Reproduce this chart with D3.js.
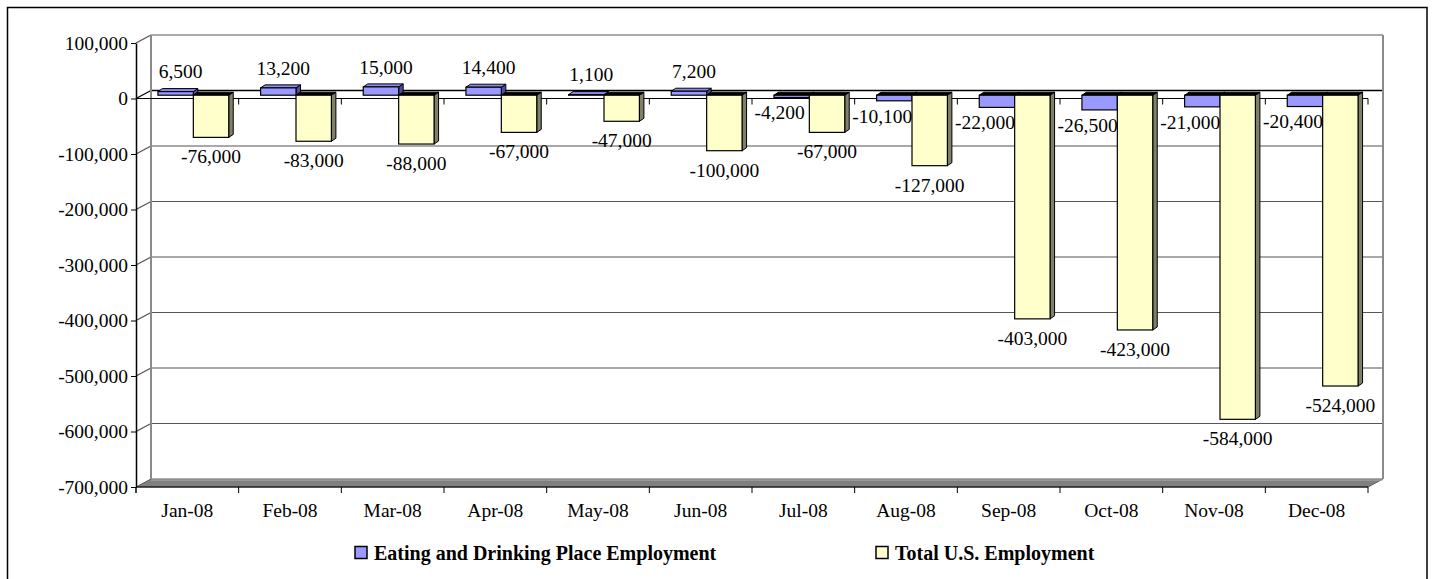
<!DOCTYPE html>
<html>
<head>
<meta charset="utf-8">
<script src="https://cdn.jsdelivr.net/npm/d3@7"></script>
<style>
  body { margin: 0; background: #fff; }
  svg text { font-family: "Liberation Serif", "Times New Roman", serif; }
</style>
</head>
<body>
<script>
const categories = ["Jan-08", "Feb-08", "Mar-08", "Apr-08", "May-08", "Jun-08",
                    "Jul-08", "Aug-08", "Sep-08", "Oct-08", "Nov-08", "Dec-08"];
const eatingDrinking = [6500, 13200, 15000, 14400, 1100, 7200, -4200, -10100, -22000, -26500, -21000, -20400];
const totalUS = [-76000, -83000, -88000, -67000, -47000, -100000, -67000, -127000, -403000, -423000, -584000, -524000];
const seriesNames = ["Eating and Drinking Place Employment", "Total U.S. Employment"];
const yTickValues = [100000, 0, -100000, -200000, -300000, -400000, -500000, -600000, -700000];

const w = 1432;
const h = 579;
const serif = '"Liberation Serif", "Times New Roman", serif';

// depth of the walls, bar front offset and bar depth (fake 3d)
const DX = 15, DY = -8;
const FX = 6, FY = -3.3;
const BX = 4.5, BY = -3;

const fmt = d3.formatLocale({decimal: ".", thousands: ",", grouping: [3], currency: ["$", ""], minus: "-"}).format(",");

const colors = {
    front: ["#9999ff", "#ffffcc"],
    side: ["#4d4d99", "#80806a"],
    top: ["#8c8cf0", "#e6e6b8"]
};

const x0 = d3.scaleBand().domain(categories).range([136, 1368]);
const x1 = d3.scaleBand().domain(seriesNames).range([0, x0.bandwidth()]).paddingOuter(0.45);
const y = d3.scaleLinear().domain([-700000, 100000]).range([487, 43]);

const svg = d3.select("body").append("svg")
    .attr("width", w)
    .attr("height", h);

// outer frame
svg.append("rect")
    .attr("x", 7.5).attr("y", 7.5)
    .attr("width", 1419.5).attr("height", 600)
    .attr("fill", "none")
    .attr("stroke", "#000")
    .attr("stroke-width", 1.5);

const xLeft = x0.range()[0], xRight = x0.range()[1];

// floor slab
const yFloor = y(-700000);
svg.append("polygon")
    .attr("points", [[xLeft, yFloor], [xLeft + DX, yFloor + DY], [xRight + DX, yFloor + DY], [xRight, yFloor]].join(" "))
    .attr("fill", "#808080")
    .attr("stroke", "#5a5a5a")
    .attr("stroke-width", 1);
svg.append("line")
    .attr("x1", xLeft + DX).attr("x2", xRight + DX)
    .attr("y1", yFloor + DY + 1).attr("y2", yFloor + DY + 1)
    .attr("stroke", "#b0b0b0");

// gridlines on back and side wall
const grid = svg.append("g");
yTickValues.filter(v => v > -700000).forEach(v => {
    const col = v === 0 ? "#000" : "#555";
    grid.append("line")
        .attr("x1", xLeft + DX).attr("x2", xRight + DX)
        .attr("y1", y(v) + DY).attr("y2", y(v) + DY)
        .attr("stroke", col).attr("stroke-width", v === 0 ? 1.5 : 1.2);
    grid.append("line")
        .attr("x1", xLeft).attr("x2", xLeft + DX)
        .attr("y1", y(v)).attr("y2", y(v) + DY)
        .attr("stroke", col).attr("stroke-width", 1.2);
});

// wall edges
[xLeft + DX, xRight + DX].forEach(xx => {
    svg.append("line")
        .attr("x1", xx).attr("x2", xx)
        .attr("y1", y(100000) + DY).attr("y2", yFloor + DY)
        .attr("stroke", "#8a8a8a").attr("stroke-width", 2);
});

// category axis at zero (front)
svg.append("line")
    .attr("x1", xLeft).attr("x2", xRight)
    .attr("y1", y(0)).attr("y2", y(0))
    .attr("stroke", "#000").attr("stroke-width", 1.2);
categories.slice(1).map(c => x0(c)).concat([xRight]).forEach(xx => {
    svg.append("line")
        .attr("x1", xx).attr("x2", xx)
        .attr("y1", y(0)).attr("y2", y(0) + 6)
        .attr("stroke", "#000");
});

// bars
const bars = svg.append("g");
categories.forEach((c, i) => {
    [eatingDrinking[i], totalUS[i]].forEach((v, s) => {
        const xL = x0(c) + x1(seriesNames[s]) + FX;
        const xR = xL + x1.bandwidth();
        const yT = y(Math.max(v, 0)) + FY;
        const yB = y(Math.min(v, 0)) + FY;
        bars.append("polygon")
            .attr("points", [[xR, yT], [xR + BX, yT + BY], [xR + BX, yB + BY], [xR, yB]].join(" "))
            .attr("fill", colors.side[s])
            .attr("stroke", "#000").attr("stroke-width", 1);
        bars.append("polygon")
            .attr("points", [[xL, yT], [xL + BX, yT + BY], [xR + BX, yT + BY], [xR, yT]].join(" "))
            .attr("fill", v >= 0 ? colors.top[s] : "#000")
            .attr("stroke", "#000").attr("stroke-width", 1);
        bars.append("rect")
            .attr("x", xL).attr("y", yT)
            .attr("width", x1.bandwidth()).attr("height", Math.max(yB - yT, 0.5))
            .attr("fill", colors.front[s])
            .attr("stroke", "#000").attr("stroke-width", 1.2);
    });
});

// data labels
const labels = svg.append("g")
    .style("font-size", "19.5px")
    .attr("text-anchor", "middle");
categories.forEach((c, i) => {
    const v = eatingDrinking[i];
    const xc = x0(c) + x1(seriesNames[0]) + FX + x1.bandwidth() / 2;
    if (v >= 0) {
        labels.append("text")
            .attr("x", xc + 5)
            .attr("y", y(v) + FY - 20)
            .attr("dy", "0.35em")
            .text(fmt(v));
    } else {
        labels.append("text")
            .attr("x", xc - 12)
            .attr("y", y(v) + FY + 15)
            .attr("dy", "0.35em")
            .text(fmt(v));
    }
    const t = totalUS[i];
    labels.append("text")
        .attr("x", x0(c) + x1(seriesNames[1]) + FX + x1.bandwidth() / 2)
        .attr("y", y(t) + FY + 19)
        .attr("dy", "0.35em")
        .text(fmt(t));
});

// value axis
const yAxis = d3.axisLeft(y).tickValues(yTickValues).tickFormat(fmt).tickSize(5).tickSizeOuter(0).tickPadding(3);
const gy = svg.append("g")
    .attr("transform", "translate(" + xLeft + ",0)")
    .call(yAxis)
    .attr("font-family", serif)
    .attr("font-size", 19.5);
gy.select(".domain").attr("stroke", "#000").attr("stroke-width", 1.5);
gy.selectAll("text").style("font-family", serif).style("font-size", "19.5px").attr("fill", "#000");

// bottom edge + category labels
svg.append("line")
    .attr("x1", xLeft).attr("x2", xRight)
    .attr("y1", yFloor).attr("y2", yFloor)
    .attr("stroke", "#000").attr("stroke-width", 1.2);
svg.append("line")
    .attr("x1", xLeft).attr("x2", xLeft)
    .attr("y1", yFloor).attr("y2", yFloor + 6)
    .attr("stroke", "#000").attr("stroke-width", 1.5);
categories.slice(1).map(c => x0(c)).concat([xRight]).forEach(xx => {
    svg.append("line")
        .attr("x1", xx).attr("x2", xx)
        .attr("y1", yFloor).attr("y2", yFloor + 6)
        .attr("stroke", "#000");
});
const xAxis = d3.axisBottom(x0).tickSize(0).tickPadding(16);
const gx = svg.append("g")
    .attr("transform", "translate(0," + yFloor + ")")
    .call(xAxis)
    .attr("font-family", serif)
    .attr("font-size", 19.5);
gx.select(".domain").remove();
gx.selectAll("text").style("font-family", serif).style("font-size", "19.5px").attr("fill", "#000");

// legend
const legend = svg.append("g").attr("id", "legend");
const legendX = [355, 876];
seriesNames.forEach((name, s) => {
    legend.append("rect")
        .attr("x", legendX[s]).attr("y", 546.5)
        .attr("width", 12).attr("height", 12)
        .attr("fill", colors.front[s])
        .attr("stroke", "#000").attr("stroke-width", 1.5);
    legend.append("text")
        .attr("x", legendX[s] + 19)
        .attr("y", 552.5)
        .attr("dy", "0.35em")
        .style("font-size", "20px")
        .style("font-weight", "bold")
        .text(name);
});
</script>
</body>
</html>
